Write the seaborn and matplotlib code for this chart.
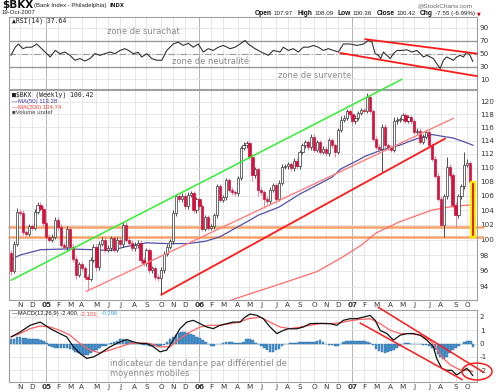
import numpy as np
import pandas as pd
import matplotlib
matplotlib.use("Agg")
import matplotlib.pyplot as plt
import seaborn as sns
from matplotlib.patches import Ellipse
from matplotlib.ticker import NullLocator

sns.set_theme(style="white")
plt.rcParams['font.family'] = ['DejaVu Sans']

# ---------------- data ----------------
start_date = "2004-10-15"
n_weeks = 158
first_open = 98.3
close = [96.0, 99.5, 103.8, 103.6, 101.0, 100.8, 101.8, 101.6, 103.8, 104.7,
         104.2, 102.2, 100.4, 100.0, 100.4, 102.7, 101.7, 99.3, 99.0, 101.5,
         99.1, 97.5, 95.5, 96.8, 96.3, 95.2, 95.0, 97.4, 99.1, 96.5,
         99.5, 100.0, 98.7, 98.9, 100.2, 98.7, 100.0, 99.4, 102.0, 100.0,
         99.6, 98.9, 99.3, 99.6, 97.4, 97.0, 98.6, 96.1, 96.3, 95.2,
         95.1, 96.1, 98.2, 99.1, 99.8, 103.6, 105.9, 105.5, 106.0, 104.5,
         106.1, 106.3, 104.0, 105.5, 104.5, 101.5, 103.0, 101.6, 101.8, 103.3,
         107.3, 105.4, 105.8, 108.2, 106.8, 106.5, 106.3, 108.5, 112.9, 113.3,
         113.6, 111.6, 108.9, 109.8, 106.8, 106.5, 105.6, 105.2, 106.8, 107.5,
         105.6, 107.8, 110.1, 110.2, 110.5, 109.9, 111.0, 110.2, 112.3, 113.3,
         113.8, 113.0, 114.6, 112.6, 113.8, 112.3, 112.8, 112.1, 114.1, 113.3,
         112.3, 115.6, 117.1, 117.5, 118.5, 118.0, 116.9, 117.5, 118.2, 118.7,
         118.5, 120.8, 118.5, 114.3, 113.1, 112.8, 116.1, 113.3, 113.0, 112.6,
         116.9, 117.2, 117.3, 117.9, 117.0, 117.6, 116.9, 115.3, 115.5, 113.8,
         114.6, 115.3, 113.3, 111.3, 108.8, 105.6, 102.0, 105.9, 110.1, 108.9,
         104.7, 103.3, 105.9, 107.3, 110.4, 110.6, 107.97, 100.42]
wick_default = 0.35
high_override = {0: 98.6, 2: 104.3, 9: 105.1, 121: 121.4, 148: 111.6, 154: 112.3,
                 155: 111.2, 156: 111.0, 157: 108.09, 79: 113.8, 112: 117.8, 130: 117.6}
low_override = {0: 95.5, 12: 100.0, 22: 95.0, 26: 93.6, 29: 96.0, 44: 97.0, 49: 94.8,
                51: 93.0, 82: 108.0, 84: 106.0, 86: 104.3, 90: 105.0, 110: 111.6,
                126: 109.4, 146: 101.8, 147: 100.4, 151: 101.7, 157: 100.36}

ma50_pos = [0, 3, 10, 19, 28, 34, 39, 46, 53, 60, 66, 71, 76, 81, 84, 91, 98, 104,
            109, 112, 118, 120, 126, 132, 138, 143, 147, 150, 154, 157]
ma50_val = [97.4, 98.0, 98.7, 98.8, 98.7, 98.6, 99.1, 99.6, 99.5, 99.5, 99.8, 100.4,
            101.5, 102.6, 103.3, 104.4, 106.2, 107.5, 108.6, 109.8, 111.1, 111.6,
            112.6, 113.3, 114.3, 114.9, 114.6, 114.4, 113.8, 113.28]
ma200_pos = [72, 76, 81, 92, 104, 112, 119, 124, 132, 143, 150, 157]
ma200_val = [92.0, 92.5, 93.1, 94.4, 95.9, 97.6, 99.3, 100.9, 102.4, 104.0, 104.5, 104.74]

rsi_pos = [0, 1.4, 2.5, 4, 5.3, 7, 8.7, 10.4, 12.1, 13.3, 15, 16.6, 18.3, 20, 21.7,
           23.4, 25.1, 26.8, 28.5, 30.2, 31.9, 33.6, 35.3, 37, 38.7, 39.9, 41.5, 43.2,
           44.4, 46.1, 47.8, 49.5, 51.2, 52.9, 54, 55.1, 56.8, 58.5, 60.2, 61.9, 63.6,
           65.3, 67, 68.7, 70.4, 72.1, 74.4, 76.1, 77.8, 79.5, 80.6, 82.9, 85.2, 87.4,
           89.1, 91.4, 92.5, 94.2, 95.9, 97.6, 99.3, 101, 102.7, 104.4, 106.1, 107.8,
           109.5, 111.2, 112.9, 115.2, 117.5, 119.7, 121.4, 122.6, 123.7, 124.8, 125.6,
           126.5, 127.7, 128.8, 129.9, 131.1, 132.8, 134.5, 136.2, 137.9, 139, 140.1,
           141.3, 142.4, 143.5, 144.6, 145.8, 146.9, 148, 149.2, 150.3, 151.4, 152.6,
           153.7, 154.8, 155.9, 156.9]
rsi_val = [47.4, 60, 65, 57.7, 60, 60, 65, 57.7, 50, 44.8, 55, 50, 52.5, 47.4, 39.7,
           42.3, 38.6, 42.3, 50, 47.4, 50, 52.5, 50, 55, 57.7, 55, 50, 52, 44.8, 50,
           42.3, 39.7, 39.7, 55, 60, 65, 67.8, 62.8, 66, 60, 65, 52.5, 57.7, 55, 60,
           62.8, 57.7, 60, 65, 70.5, 65, 57.7, 52, 47.4, 55, 52.5, 60, 55, 57.7, 52.5,
           60, 60, 62.8, 60, 55, 57.7, 55, 52.5, 65, 65, 62.8, 65, 70.5, 68, 50, 47.4,
           42.3, 52.5, 47.4, 42.3, 50, 55, 55, 56, 52.5, 55, 50, 44.8, 47.4, 44.8, 42.3,
           34.6, 26.9, 39.7, 44.8, 42.3, 39.7, 44.8, 47.4, 44.8, 52.5, 47.4, 37.64]

macd_pos = [0, 3.1, 6.5, 9.9, 11.6, 13.3, 16.6, 18.9, 21.2, 23.4, 25.7, 28, 30.2, 33.6,
            37, 39.3, 41.6, 43.8, 46.1, 48.4, 50.6, 52.9, 55.1, 57.4, 59.7, 61.9, 64.2,
            66.5, 68.7, 71, 73.3, 75.5, 77.8, 79.5, 81.2, 83.5, 85.7, 88, 90.3, 92.5,
            94.2, 97.1, 99.3, 101.6, 103.9, 106.1, 108.4, 110.7, 112.9, 115.2, 117.5,
            119.7, 122, 123.7, 125.4, 127.7, 129.9, 132.2, 134.5, 136.7, 139, 141.3,
            143.5, 144.6, 146.3, 148, 149.7, 151.4, 153.1, 154.8, 155.9, 156.9]
macd_val = [0.49, 0.86, 1.36, 1.6, 1.36, 1.11, 0.74, 0.49, -0.25, -0.74, -1.11, -1.0,
            -0.74, -0.25, 0.12, 0.3, 0.12, 0.0, 0.0, -0.25, -0.62, -0.49, 0.25, 1.11,
            1.6, 1.73, 1.48, 1.23, 1.11, 1.36, 1.48, 1.6, 1.6, 1.97, 2.2, 2.1, 1.85,
            1.23, 0.74, 0.98, 1.1, 1.1, 1.23, 1.48, 1.5, 1.5, 1.48, 1.36, 1.73, 1.85,
            1.85, 1.97, 2.1, 1.73, 0.98, 0.74, 0.25, 0.62, 0.74, 0.74, 0.62, 0.25,
            -0.25, -1.11, -1.85, -2.0, -2.0, -2.35, -2.1, -1.85, -2.1, -2.4]
signal_pos = [0, 3.1, 6.5, 9.9, 13.3, 16.6, 20, 23.4, 26.8, 30.2, 33.6, 37, 40.4, 43.8,
              47.2, 50.6, 54, 57.4, 60.8, 64.2, 67.6, 71, 74.4, 77.8, 80.6, 84.6, 88,
              91.4, 94.8, 98.2, 101.6, 105, 108.4, 111.8, 115.2, 118.6, 122, 125.4,
              128.8, 132.2, 135.6, 139, 142.4, 144.6, 146.9, 149.2, 152.6, 155.9, 156.9]
signal_val = [0.49, 0.74, 1.11, 1.3, 1.23, 0.98, 0.62, 0.0, -0.49, -0.7, -0.49, -0.25,
              0.0, 0.05, 0.0, -0.25, -0.25, 0.37, 0.86, 1.23, 1.36, 1.36, 1.48, 1.6,
              1.85, 1.97, 1.6, 1.23, 1.11, 1.23, 1.36, 1.48, 1.48, 1.55, 1.7, 1.8, 1.85,
              1.48, 0.98, 0.74, 0.74, 0.62, 0.25, -0.37, -1.11, -1.6, -1.97, -2.0, -2.101]
hist_val = [0.30, 0.35, 0.45, 0.45, 0.40, 0.40, 0.35, 0.35, 0.30, 0.30,
            0.25, 0.15, 0.05, -0.15, -0.25, -0.30, -0.30, -0.30, -0.35, -0.35,
            -0.40, -0.50, -0.60, -0.70, -0.80, -0.85, -0.85, -0.70, -0.55, -0.45,
            -0.30, -0.20, -0.15, -0.05, 0.05, 0.10, 0.20, 0.30, 0.30, 0.25,
            0.20, 0.10, 0.05, 0.00, -0.05, -0.10, -0.10, -0.15, -0.15, -0.20,
            -0.25, -0.20, -0.10, 0.10, 0.30, 0.50, 0.65, 0.75, 0.85, 0.85,
            0.80, 0.70, 0.60, 0.50, 0.40, 0.25, 0.10, -0.05, -0.15, -0.20,
            -0.05, 0.00, 0.05, 0.10, 0.10, 0.12, 0.05, 0.02, 0.05, 0.10,
            0.30, 0.35, 0.25, 0.05, -0.05, -0.15, -0.35, -0.50, -0.60, -0.60,
            -0.50, -0.40, -0.15, -0.05, 0.00, 0.02, 0.05, 0.05, 0.08, 0.10,
            0.10, 0.08, 0.10, 0.12, 0.20, 0.25, 0.10, 0.00, -0.10, -0.10,
            -0.15, -0.15, -0.05, 0.10, 0.15, 0.20, 0.20, 0.15, 0.15, 0.20,
            0.15, 0.10, 0.05, -0.10, -0.40, -0.55, -0.65, -0.70, -0.65, -0.55,
            -0.45, -0.30, -0.15, 0.00, 0.05, 0.05, 0.00, 0.00, -0.05, -0.05,
            -0.10, -0.10, -0.20, -0.30, -0.50, -0.80, -1.00, -1.15, -1.00, -0.70,
            -0.50, -0.30, -0.20, -0.05, 0.10, 0.15, 0.15, -0.298]

# annotation lines (week index, value)
green_line = ([0, 132.8], [94.8, 123.6])
pink_line = ([25.5, 150.3], [93.4, 117.4])
red_line = ([51, 147.5], [93.0, 114.3])
support_levels = [101.7, 100.4]
rsi_upper = ([120.3, 158.3], [72.5, 50])
rsi_lower = ([111.8, 158.3], [51, 15])
macd_upper = ([124.7, 160.4], [2.71, -2.13])
macd_lower = ([118.6, 153.3], [1.53, -2.7])

month_letters = ["J", "F", "M", "A", "M", "J", "J", "A", "S", "O", "N", "D"]
price_ticks = [94, 96, 98, 100, 102, 104, 106, 108, 110, 112, 114, 116, 118, 120]
rsi_ticks = [10, 30, 50, 70, 90]
macd_ticks = [-2, -1, 0, 1, 2]

header_labels = ["Open", "High", "Low", "Close", "Chg"]
header_values = ["107.97", "108.09", "100.36", "100.42", "-7.55 (-6.99%)"]
macd_legend = ["\u2014MACD(12,26,9) -2.400,", " -2.101,", " -0.298"]

# ---------------- derived ----------------
dates = pd.date_range(start_date, periods=n_weeks, freq="W-FRI")
idx = np.arange(n_weeks)
close_a = np.array(close)
open_a = np.concatenate([[first_open], close_a[:-1]])
high_a = np.maximum(open_a, close_a) + wick_default
low_a = np.minimum(open_a, close_a) - wick_default
for k, v in high_override.items():
    high_a[k] = v
for k, v in low_override.items():
    low_a[k] = v

month_pos, month_lab, is_year = [], [], []
for i in range(1, n_weeks):
    if dates[i].month != dates[i - 1].month:
        month_pos.append(i)
        if dates[i].month == 1:
            month_lab.append(f"{dates[i].year % 100:02d}")
            is_year.append(True)
        else:
            month_lab.append(month_letters[dates[i].month - 1])
            is_year.append(False)

W, H = 499, 392
fig = plt.figure(figsize=(W / 100, H / 100), dpi=100)
fig.patch.set_facecolor("white")
renderer = fig.canvas.get_renderer()


def frect(x0, y0, x1, y1):
    return [x0 / W, 1 - y1 / H, (x1 - x0) / W, (y1 - y0) / H]


def ftext(x, y, s, **kw):
    kw.setdefault("va", "center")
    kw.setdefault("ha", "left")
    return fig.text(x / W, 1 - y / H, s, **kw)


def text_width(t):
    return t.get_window_extent(renderer=renderer).width


ax_rsi = fig.add_axes(frect(9, 17, 477, 89))
ax_px = fig.add_axes(frect(9, 90, 477, 300))
ax_macd = fig.add_axes(frect(9, 310, 477, 381.7))

XL = (-0.7, 158.3)
grid_c = "#e3e3e3"
year_c = "#a8a8a8"
for ax in (ax_rsi, ax_px, ax_macd):
    ax.set_xlim(*XL)
    ax.set_facecolor("white")
    for s in ax.spines.values():
        s.set_color("#a0a0a0")
        s.set_linewidth(0.8)
    for p, y in zip(month_pos, is_year):
        ax.axvline(p, color=year_c if y else grid_c, lw=0.6, zorder=0)
    ax.yaxis.tick_right()
    ax.tick_params(axis="both", length=0, labelsize=5.2, colors="#333333", pad=2)

# ---------------- RSI ----------------
ax_rsi.set_ylim(-5, 107)
for t in rsi_ticks:
    ax_rsi.axhline(t, color=grid_c, lw=0.6, zorder=0)
ax_rsi.axhline(70, color="#999999", lw=1.0, zorder=1)
ax_rsi.axhline(30, color="#999999", lw=1.0, zorder=1)
ax_rsi.axhline(50, color="#999999", lw=0.8, ls=(0, (6, 2, 1, 2)), zorder=1)
sns.lineplot(x=rsi_pos, y=rsi_val, ax=ax_rsi, color="#333333", lw=0.8,
             estimator=None, sort=False, zorder=3)
ax_rsi.plot(*rsi_upper, color="#ff1a1a", lw=1.3, zorder=4, clip_on=False)
ax_rsi.plot(*rsi_lower, color="#ff1a1a", lw=1.3, zorder=4, clip_on=False)
ax_rsi.set_yticks(rsi_ticks)
ax_rsi.set_yticklabels([str(t) for t in rsi_ticks])
ax_rsi.set_xticks([])
ax_rsi.set_xlabel("")
ax_rsi.set_ylabel("")

# ---------------- Price ----------------
ax_px.set_yscale("log")
ax_px.set_ylim(92.36, 121.86)
for t in price_ticks:
    ax_px.axhline(t, color=grid_c, lw=0.6, zorder=0)
for lvl in support_levels:
    ax_px.axhline(lvl, xmin=0, xmax=1.013, color="#f7a36b", lw=1.8, zorder=2,
                  clip_on=False)

sns.lineplot(x=ma200_pos, y=ma200_val, ax=ax_px, color="#ff6b6b", lw=0.9,
             estimator=None, sort=False, zorder=2)
sns.lineplot(x=ma50_pos, y=ma50_val, ax=ax_px, color="#5050a8", lw=0.9,
             estimator=None, sort=False, zorder=2)

up = close_a >= open_a
body_lo = np.minimum(open_a, close_a)
body_h = np.abs(close_a - open_a)
ax_px.vlines(idx[up], low_a[up], high_a[up], color="#333333", lw=0.6, zorder=3)
ax_px.vlines(idx[~up], low_a[~up], high_a[~up], color="#e8708a", lw=0.6, zorder=3)
ax_px.bar(idx[up], body_h[up], bottom=body_lo[up], width=0.75, color="white",
          edgecolor="#333333", linewidth=0.5, zorder=3.5)
dn = np.where(~up)[0]
last = n_weeks - 1
dn_main = dn[dn != last]
ax_px.bar(dn_main, body_h[dn_main], bottom=body_lo[dn_main], width=0.75,
          color="#d2103c", edgecolor="#d2103c", linewidth=0.5, zorder=3.5)
ax_px.bar([last], [body_h[last]], bottom=[body_lo[last]], width=1.3,
          color="#d2103c", edgecolor="#ffee00", linewidth=1.6, zorder=3.6)

ax_px.plot(*green_line, color="#33ee33", lw=1.1, zorder=4, clip_on=False)
ax_px.plot(*pink_line, color="#ff7f7f", lw=1.0, zorder=4)
ax_px.plot(*red_line, color="#ff1a1a", lw=1.3, zorder=4)

ax_px.yaxis.set_minor_locator(NullLocator())
ax_px.set_yticks(price_ticks)
ax_px.set_yticklabels([str(t) for t in price_ticks])
ax_px.set_xticks(month_pos)
ax_px.set_xticklabels(month_lab)
ax_px.tick_params(axis="x", pad=1.5)
for lab, y in zip(ax_px.get_xticklabels(), is_year):
    if y:
        lab.set_fontweight("bold")
ax_px.set_xlabel("")
ax_px.set_ylabel("")

# ---------------- MACD ----------------
ax_macd.set_ylim(-2.85, 2.5)
for t in macd_ticks:
    ax_macd.axhline(t, color=grid_c, lw=0.6, zorder=0)
ax_macd.bar(idx, hist_val, width=0.9, color="#4b93cc", edgecolor="#2a6aa0",
            linewidth=0.3, zorder=2)
sns.lineplot(x=signal_pos, y=signal_val, ax=ax_macd, color="#ff6060", lw=0.9,
             estimator=None, sort=False, zorder=3)
sns.lineplot(x=macd_pos, y=macd_val, ax=ax_macd, color="#111111", lw=0.9,
             estimator=None, sort=False, zorder=3)
ax_macd.plot(*macd_upper, color="#ff1a1a", lw=1.1, zorder=4, clip_on=False)
ax_macd.plot(*macd_lower, color="#ff1a1a", lw=1.1, zorder=4, clip_on=False)
ax_macd.add_patch(Ellipse((158.3, -2.09), 10.2, 1.26, fill=False, edgecolor="#ff1a1a",
                          lw=1.1, zorder=5, clip_on=False))
ax_macd.set_yticks(macd_ticks)
ax_macd.set_yticklabels([str(t) for t in macd_ticks])
ax_macd.set_xticks(month_pos)
ax_macd.set_xticklabels(month_lab)
ax_macd.tick_params(axis="x", pad=1.5)
for lab, y in zip(ax_macd.get_xticklabels(), is_year):
    if y:
        lab.set_fontweight("bold")
ax_macd.set_xlabel("")
ax_macd.set_ylabel("")

# ---------------- texts ----------------
sans = ["Liberation Sans", "DejaVu Sans"]
ftext(2, 5, "$BKX", fontsize=7.5, fontweight="bold", color="#111111")
ftext(34, 5.5, "(Bank Index - Philadelphia)", fontsize=4.3, color="#222222", family=sans)
ftext(110, 5.5, "INDX", fontsize=3.8, fontweight="bold", color="#222222")
ftext(2, 12.5, "19-Oct-2007", fontsize=4.4, color="#222222", family=sans)
ftext(418, 5.5, "@StockCharts.com", fontsize=4.6, color="#666666", family=sans)

# header: label/value pairs placed one after another
xh = 255.0
for lab, val in zip(header_labels, header_values):
    t = ftext(xh, 13.5, lab, fontsize=4.8, fontweight="bold", color="#111111", family=sans)
    xh += text_width(t) + 1.8
    t = ftext(xh, 13.5, val, fontsize=4.5, color="#222222", family=sans)
    xh += text_width(t) + 4.5
ftext(xh - 2.5, 13.5, "\u25bc", fontsize=3.5, color="#cc0000")

ftext(12, 21, "\u25b2RSI(14) 37.64", fontsize=4.7, color="#222222", family="DejaVu Sans Mono")
ftext(107, 31.5, "zone de surachat", fontsize=6.0, color="#8a8a8a")
ftext(172, 61.5, "zone de neutralité", fontsize=6.0, color="#8a8a8a")
ftext(278, 76, "zone de survente", fontsize=6.0, color="#8a8a8a")

ftext(12, 95, "\u25a0$BKX (Weekly) 100.42", fontsize=4.7, color="#222222",
      family="DejaVu Sans Mono")
ftext(12, 101.5, "\u2014MA(50) 113.28", fontsize=4.3, color="#3a3aa0", family=sans)
ftext(12, 107, "\u2014MA(200) 104.74", fontsize=4.3, color="#ff4040", family=sans)
ftext(12, 112.5, "\u25a0Volume undef", fontsize=4.3, color="#444444", family=sans)

xm = 12.0
for s, c in zip(macd_legend, ["#222222", "#ff4040", "#3aa0e0"]):
    t = ftext(xm, 313.5, s, fontsize=4.2, color=c, family=sans)
    xm += text_width(t)
ftext(110, 363.5, "indicateur de tendance par différentiel de", fontsize=6.0, color="#8a8a8a")
ftext(110, 373.5, "moyennes mobiles", fontsize=6.0, color="#8a8a8a")

fig.savefig("out.png", dpi=100, facecolor="white")
